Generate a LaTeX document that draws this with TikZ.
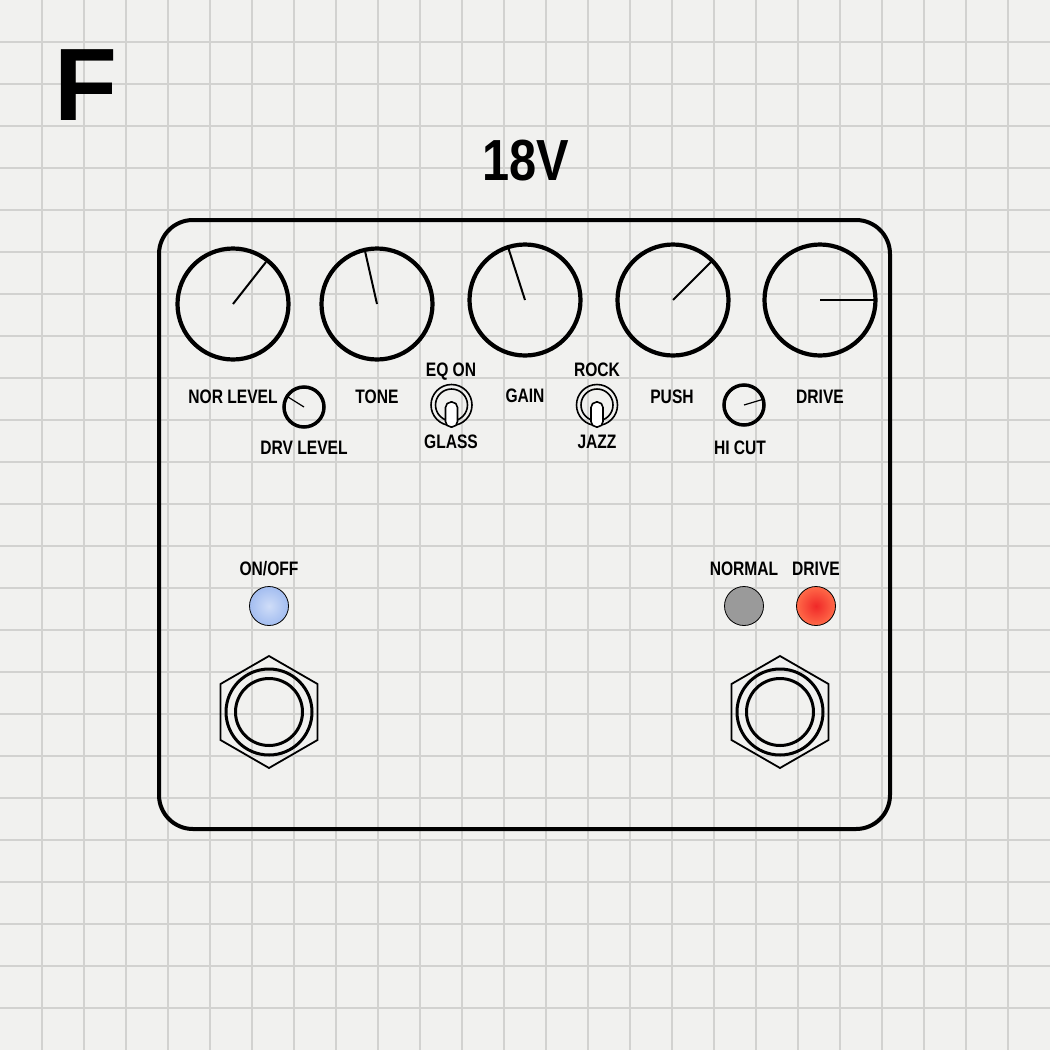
\documentclass[tikz,border=0pt]{standalone}
\usepackage{fontspec}
\newfontfamily\lblfont[FakeStretch=0.80]{Liberation Sans}
\newfontfamily\ttlfont[FakeStretch=0.84]{Liberation Sans}
\newfontfamily\bigfont{Liberation Sans}
\definecolor{bgc}{HTML}{F1F1EF}
\definecolor{gridc}{HTML}{D2D2D0}
\definecolor{ledblueA}{HTML}{CFDDF8}
\definecolor{ledblueB}{HTML}{A3BDF0}
\definecolor{ledredA}{HTML}{F02828}
\definecolor{ledredB}{HTML}{FF6A48}
\definecolor{ledgray}{HTML}{9A9A9A}
\tikzset{
  lbl/.style={font=\lblfont\bfseries\fontsize{19.5}{20}\selectfont, inner sep=0pt, text height=14pt, text depth=0pt, anchor=center},
  bigknob/.style={circle, draw, line width=4.2pt, minimum size=111pt, inner sep=0pt},
  smallknob/.style={circle, draw, line width=3.5pt, minimum size=40pt, inner sep=0pt},
  bigptr/.style={line width=2pt},
  smallptr/.style={line width=1.2pt},
  togring/.style={circle, draw, line width=1.6pt, inner sep=0pt},
  lever/.style={draw, fill=white, line width=1.6pt, rounded corners=5.5pt},
  ledc/.style={circle, draw, line width=0.8pt, minimum size=39pt, inner sep=0pt},
  hexnut/.style={regular polygon, regular polygon sides=6, shape border rotate=30, draw, line width=1.8pt, minimum size=112pt, inner sep=0pt},
  ring/.style={circle, draw, line width=3pt, inner sep=0pt},
}
\usetikzlibrary{shapes.geometric}
\begin{document}
\begin{tikzpicture}[x=1pt,y=-1pt]
% background and grid
\fill[bgc] (0,0) rectangle (1050,1050);
\useasboundingbox (0,0) rectangle (1050,1050);
\foreach \k in {1,...,24} {
  \draw[gridc, line width=1.5pt] (42*\k,0) -- (42*\k,1050);
  \draw[gridc, line width=1.5pt] (0,42*\k) -- (1050,42*\k);
}
% panel letter and voltage
\node[font=\bigfont\bfseries\fontsize{103}{103}\selectfont, inner sep=0pt, text height=74pt, text depth=0pt] (letter) at (86,83) {F};
\node[font=\ttlfont\bfseries\fontsize{58}{58}\selectfont, inner sep=0pt, text height=42pt, text depth=0pt] (volt) at (526,159) {18V};
% body
\draw[line width=4pt, rounded corners=34pt] (159,220) rectangle (890,829);
% big knobs
\node[bigknob] (k1) at (233,304) {};
\node[bigknob] (k2) at (377,304) {};
\node[bigknob] (k3) at (525,300) {};
\node[bigknob] (k4) at (673,300) {};
\node[bigknob] (k5) at (820,300) {};
\coordinate (p1) at (266,262);
\coordinate (p2) at (365,251);
\coordinate (p3) at (508,247);
\coordinate (p4) at (711,262);
\coordinate (p5) at (875,300);
\draw[bigptr] (k1.center) -- (p1);
\draw[bigptr] (k2.center) -- (p2);
\draw[bigptr] (k3.center) -- (p3);
\draw[bigptr] (k4.center) -- (p4);
\draw[bigptr] (k5.center) -- (p5);
% small knobs
\node[smallknob] (s1) at (304,407) {};
\node[smallknob] (s2) at (744,405) {};
\coordinate (q1) at (288,397);
\coordinate (q2) at (764,399);
\draw[smallptr] (s1.center) -- (q1);
\draw[smallptr] (s2.center) -- (q2);
% toggles
\node[togring, minimum size=41pt] (t1) at (451.5,405) {};
\node[togring, minimum size=32pt] (t1i) at (451.5,405) {};
\draw[lever] (445.5,402) rectangle (457.5,427);
\node[togring, minimum size=41pt] (t2) at (597,405) {};
\node[togring, minimum size=32pt] (t2i) at (597,405) {};
\draw[lever] (591,402) rectangle (603,427);
% labels
\node[lbl] (lnor) at (233,396) {NOR LEVEL};
\node[lbl] (ltone) at (377,396) {TONE};
\node[lbl] (ldrv) at (304,447) {DRV LEVEL};
\node[lbl] (leq) at (451,369) {EQ ON};
\node[lbl] (lglass) at (451,441) {GLASS};
\node[lbl] (lgain) at (525,395) {GAIN};
\node[lbl] (lrock) at (597,369) {ROCK};
\node[lbl] (ljazz) at (597,441) {JAZZ};
\node[lbl] (lpush) at (672,396) {PUSH};
\node[lbl] (lhicut) at (740,447) {HI CUT};
\node[lbl] (ldrive) at (820,396) {DRIVE};
\node[lbl] (lonoff) at (269,568) {ON/OFF};
\node[lbl] (lnormal) at (744,568) {NORMAL};
\node[lbl] (ldrive2) at (816,568) {DRIVE};
% LEDs
\shade[inner color=ledblueA, outer color=ledblueB] (269,606) circle (19.5pt);
\node[ledc] (led1) at (269,606) {};
\fill[ledgray] (744,606) circle (19.5pt);
\node[ledc] (led2) at (744,606) {};
\shade[inner color=ledredA, outer color=ledredB] (816,606) circle (19.5pt);
\node[ledc] (led3) at (816,606) {};
% footswitches
\node[hexnut] (fs1) at (269,712) {};
\node[ring, minimum size=86pt] (fs1a) at (269,712) {};
\node[ring, minimum size=67pt] (fs1b) at (269,712) {};
\node[hexnut] (fs2) at (780,712) {};
\node[ring, minimum size=86pt] (fs2a) at (780,712) {};
\node[ring, minimum size=67pt] (fs2b) at (780,712) {};
\end{tikzpicture}
\end{document}
